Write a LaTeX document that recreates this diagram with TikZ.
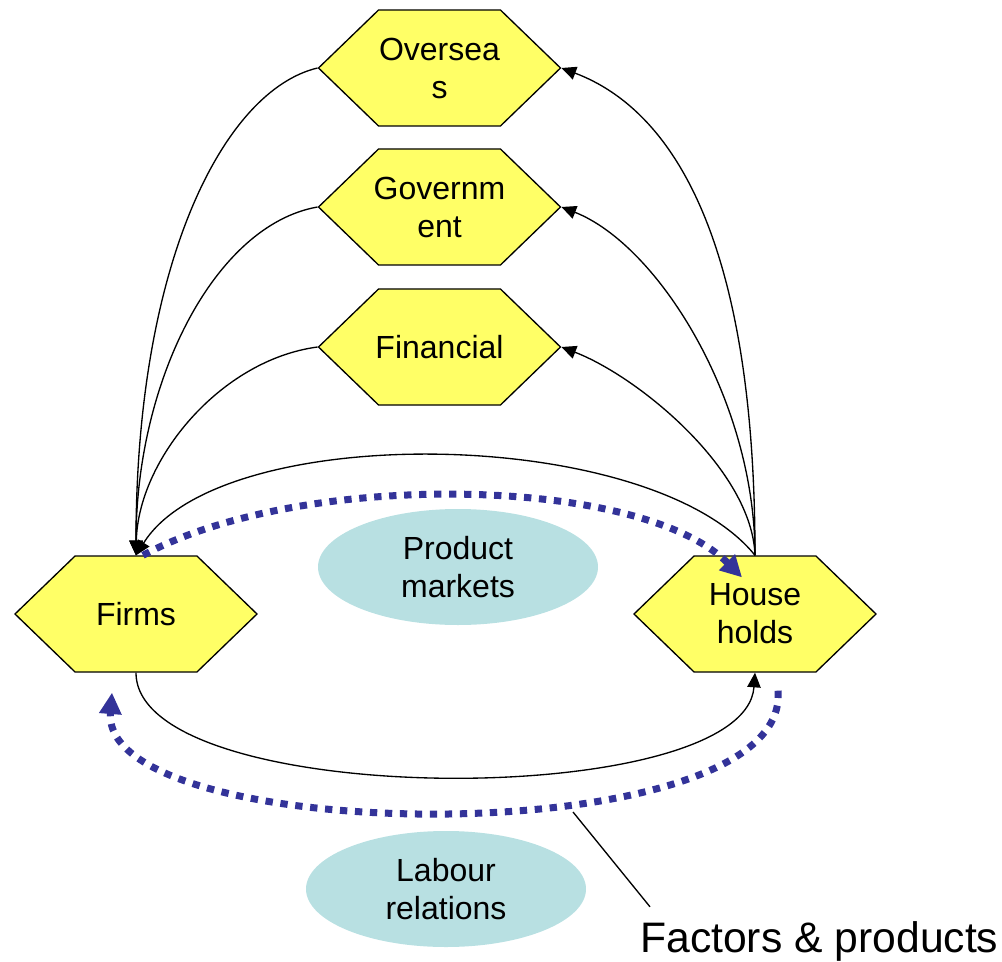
\documentclass[tikz,border=0pt]{standalone}
\usepackage{fontspec}
\setmainfont{Liberation Sans}
\usepackage{xcolor}
\usetikzlibrary{shapes.symbols,shapes.geometric,arrows.meta,calc}

\begin{document}
\begin{tikzpicture}[x=0.75pt,y=0.75pt,yscale=-1,xscale=1,
  hexbox/.style={shape=signal, signal to=east and west, signal pointer angle=88, draw, line width=1pt, fill={rgb, 255:red, 255; green, 255; blue, 102}, minimum width=181.5pt, minimum height=87pt, inner xsep=-14pt, inner ysep=0pt, align=center, font=\fontsize{24}{28.5}\selectfont},
  oval/.style={ellipse, fill={rgb, 255:red, 184; green, 224; blue, 226}, minimum width=210pt, minimum height=87pt, inner sep=0pt, align=center, font=\fontsize{24}{28.5}\selectfont},
  flow/.style={line width=1pt, -{Triangle[length=11pt,width=10pt]}},
  money/.style={color={rgb, 255:red, 51; green, 51; blue, 153}, line width=5.25pt, dash pattern=on 5.5pt off 5.75pt, -{Triangle[length=16pt,width=16pt]}}
]
\useasboundingbox (0,0) rectangle (1002,962);

%Shapes: Hexagons
\draw (439.5,68) node [hexbox] (ov) {Oversea\\s};
\draw (439.5,207) node [hexbox] (gov) {Governm\\ent};
\draw (439.5,347) node [hexbox] (fin) {Financial};
\draw (136,614) node [hexbox] (firms) {Firms};
\draw (755,614) node [hexbox] (hh) {House\\holds};

%Shapes: Ellipses
\draw (458,567) node [oval] (pm) {Product\\markets};
\draw (446,889) node [oval] (lr) {Labour\\relations};

%Curve Lines
\draw [flow] (hh.north) .. controls (755,250) and (678,112) .. (ov.east);
\draw [flow] (hh.north) .. controls (755,400) and (658,245) .. (gov.east);
\draw [flow] (hh.north) .. controls (752,470) and (639,377) .. (fin.east);
\draw [flow] (ov.west) .. controls (225,90) and (136,260) .. (firms.north);
\draw [flow] (gov.west) .. controls (215,225) and (136,380) .. (firms.north);
\draw [flow] (fin.west) .. controls (220,360) and (138,460) .. (firms.north);
\draw [flow] (hh.north) .. controls (650,425) and (220,420) .. (firms.north);
\draw [flow] (firms.south) .. controls (136,810) and (745,812) .. (hh.south);

%Dotted Curves
\draw [money] ($(firms.north)+(7,0)$) .. controls (300,470) and (640,475) .. ($(hh.north)+(-13,22)$);
\draw [money] ($(hh.south)+(23,18)$) .. controls (792,855) and (100,848) .. ($(firms.south)+(-24,20)$);

% Text Node
\draw (640,952) node [anchor=base west, inner sep=0pt, font=\fontsize{32}{38}\selectfont] (fp) {Factors \& products};
\coordinate (fpline) at (573,812);
\draw [line width=1pt] (fpline) -- ($(fp.north west)+(10,-14)$);

\end{tikzpicture}
\end{document}
